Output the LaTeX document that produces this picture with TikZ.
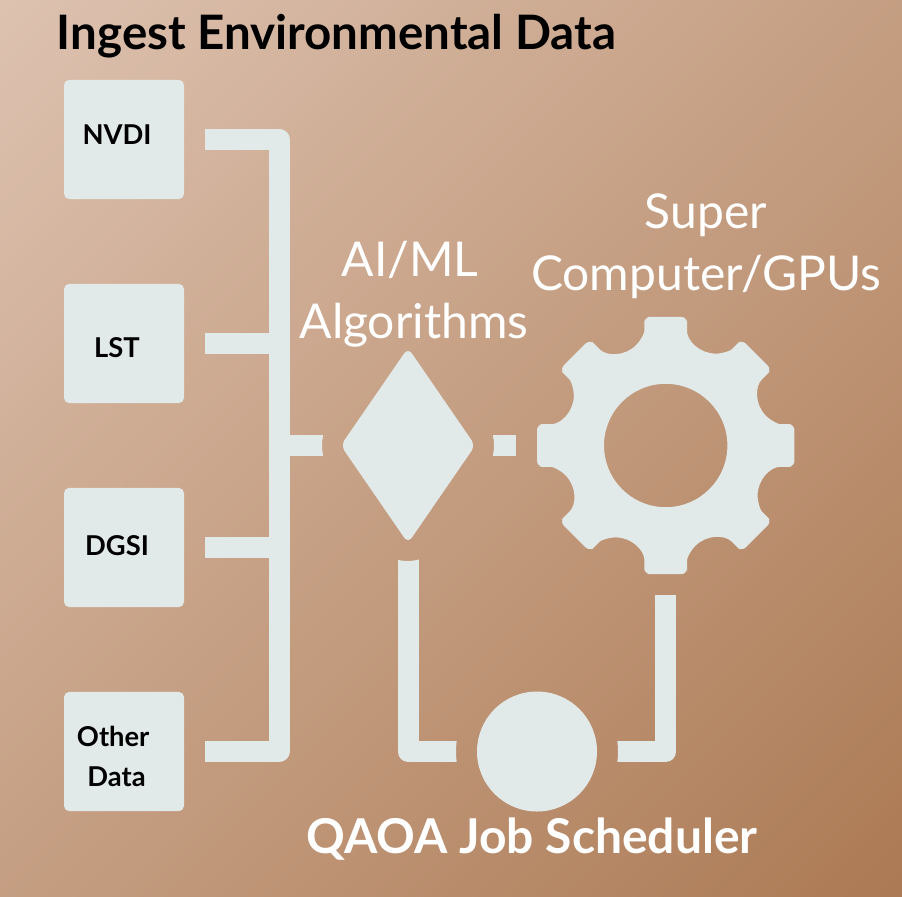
\documentclass[tikz,border=0pt]{standalone}
\usepackage{fontspec}
\setmainfont{Lato}
\usetikzlibrary{shapes.geometric}

\definecolor{panel}{RGB}{226,234,233}
\definecolor{sandlight}{RGB}{221,194,176}
\definecolor{sanddark}{RGB}{172,122,84}
\pgfdeclarehorizontalshading{sandfade}{100bp}{color(0bp)=(sandlight); color(14.6bp)=(sandlight); color(85.4bp)=(sanddark); color(100bp)=(sanddark)}

\tikzset{
  every picture/.style={line width=0.75pt},
  databox/.style={fill=panel,rounded corners=4pt,minimum width=90pt,minimum height=89.5pt,inner sep=0pt,outer sep=15.75pt},
  datalabel/.style={inner sep=0pt,font=\fontsize{20.5}{30}\selectfont\bfseries,align=center,text=black},
  pipe/.style={draw=panel,line width=15.75pt,line join=round},
  biglabel/.style={inner sep=0pt,font=\fontsize{36}{46.5}\selectfont,align=center,text=white},
}

\begin{document}
\begin{tikzpicture}[x=0.75pt,y=0.75pt,yscale=-1,xscale=1]
  \useasboundingbox (0,0) rectangle (902,896);
  %background
  \shade[shading=sandfade,shading angle=-45] (0,0) rectangle (902,896);

  %Data boxes
  \node[databox] (nvdi) at (124,139.5) {};
  \node[databox] (lst) at (124,343.5) {};
  \node[databox] (dgsi) at (124,547.5) {};
  \node[databox] (other) at (124,751.5) {};

  %Processing shapes
  \node[diamond,fill=panel,rounded corners=5pt,minimum width=100.8pt,minimum height=146.5pt,inner sep=0pt,outer sep=0pt] (algo) at (408,445.5) {};
  \node[circle,fill=panel,minimum size=90pt,inner sep=0pt,outer sep=14pt] (qaoa) at (537,751.5) {};
  \node[circle,minimum size=193pt,inner sep=0pt,outer sep=15.75pt] (gear) at (665.7,445.5) {};
  \coordinate (junction) at (279,445.5);

  %Gear
  \begin{scope}[shift={(665.7,445.5)}]
    \fill[panel,even odd rule,rounded corners=4.5pt] (0,-128.7)
      \foreach \a in {0,45,...,315} {
        {[rotate=\a] -- (21.3,-128.7) -- (21.3,-120.5) arc[start angle=180,end angle=45,radius=28.6]}
        {[rotate=\a+45] -- (-21.3,-128.7) -- (0,-128.7)}
      } (0,0) circle[radius=61.7];
  \end{scope}

  %Connectors, cut round the shapes
  \begin{scope}[even odd rule]
    \clip (0,0) rectangle (902,896)
      (366,445.5) circle[radius=44] (450,445.5) circle[radius=44] (407.5,517) circle[radius=44]
      (537,751.5) circle[radius=81];
    \draw[pipe] (nvdi.east) -| (junction) |- (other.east);
    \draw[pipe] (lst.east) -- (lst.east -| junction);
    \draw[pipe] (dgsi.east) -- (dgsi.east -| junction);
    \draw[pipe,shorten >=13pt] (junction) -- (algo.west);
    \draw[pipe,shorten <=13pt] (algo.east) -- (gear.west);
    \draw[pipe,shorten <=12pt] (algo.south) |- (qaoa.west);
    \draw[pipe] (qaoa.east) -| (gear.south);
  \end{scope}

  % Text Node
  \node[inner sep=0pt,font=\fontsize{35.6}{40}\selectfont\bfseries,text=black] (title) at (336.5,36) {Ingest Environmental Data};
  \node[datalabel] (nvditext) at (117,135) {NVDI};
  \node[datalabel] (lsttext) at (117,348) {LST};
  \node[datalabel] (dgsitext) at (117,546) {DGSI};
  \node[datalabel] (othertext) at (116.5,756) {Other\hspace*{5pt}\\Data};
  \node[biglabel] (algotext) at (414,294) {AI/ML\hspace*{6pt}\\Algorithms};
  \node[biglabel] (geartext) at (706,246) {Super\\Computer/GPUs};
  \node[biglabel,font=\fontsize{36}{40}\selectfont\bfseries] (qaoatext) at (532,839) {QAOA Job Scheduler};
\end{tikzpicture}
\end{document}
